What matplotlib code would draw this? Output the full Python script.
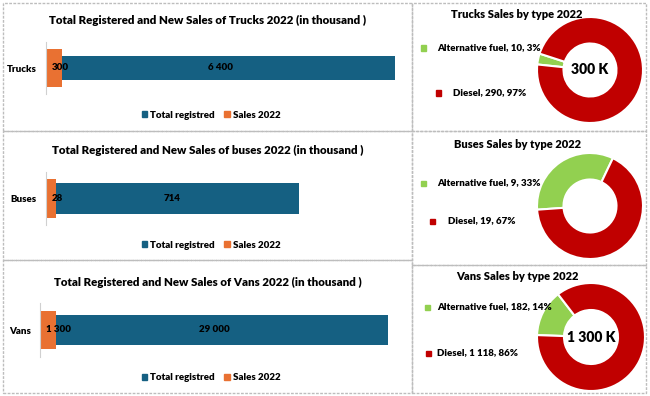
import matplotlib
matplotlib.use("Agg")
import matplotlib.pyplot as plt
from matplotlib.patches import Rectangle, Patch

plt.rcParams['font.family'] = ['Lato', 'DejaVu Sans']
plt.rcParams['font.weight'] = 'heavy'

# data (thousands)
vehicles = ["Trucks", "Buses", "Vans"]
total_registered = [6400, 714, 29000]
sales_2022 = [300, 28, 1300]
bar_titles = ["Total Registered and New Sales of Trucks 2022 (in thousand )",
              "Total Registered and New Sales of buses 2022 (in thousand )",
              "Total Registered and New Sales of Vans 2022 (in thousand )"]

fuel_types = ["Alternative fuel", "Diesel"]
trucks_by_fuel = [10, 290]
buses_by_fuel = [9.3, 18.7]
vans_by_fuel = [182, 1118]
pie_titles = ["Trucks Sales by type 2022", "Buses Sales by type 2022", "Vans Sales by type 2022"]
show_center = [True, False, True]

BLUE = '#156082'
ORANGE = '#E97132'
GREEN = '#92D050'
RED = '#C00000'

W, H = 650, 396


def fx(x):
    return x / W


def fy(y):
    return 1 - y / H


def fmt(v):
    return f"{round(v):,}".replace(",", " ")


fig = plt.figure(figsize=(6.5, 3.96), dpi=100)

# dashed panel borders
boxes = [(3, 3, 412, 131), (3, 131, 412, 260), (3, 260, 412, 393),
         (412, 3, 646, 131), (412, 131, 646, 265), (412, 265, 646, 393)]
for x0, y0, x1, y1 in boxes:
    fig.patches.append(Rectangle((fx(x0), fy(y1)), fx(x1) - fx(x0), fy(y0) - fy(y1),
                                 transform=fig.transFigure, fill=False,
                                 edgecolor='#BDBDBD', lw=1, ls=(0, (2, 1))))

# bar charts: (left, top, bottom) px, xmax, blue height, title y, legend y
bar_layout = [(46, 42, 94, 6500, 0.48, 20, 115),
              (46, 172, 225, 1000, 0.57, 150, 245),
              (40, 303, 357, 30000, 0.56, 282, 378)]

for i, (left, top, bottom, xmax, hb, ty, ly) in enumerate(bar_layout):
    ax = fig.add_axes([fx(left), fy(bottom), fx(400) - fx(left), fy(top) - fy(bottom)])
    b1 = ax.barh([0], [total_registered[i]], height=hb, color=BLUE)
    b2 = ax.barh([0], [sales_2022[i]], height=0.72, color=ORANGE)
    ax.bar_label(b1, labels=[fmt(total_registered[i])], label_type='center', fontsize=7)
    ax.annotate(fmt(sales_2022[i]), xy=(0, 0), xytext=(6, 0), textcoords='offset pixels',
                ha='left', va='center', fontsize=7)
    ax.set_xlim(0, xmax)
    ax.set_ylim(-0.5, 0.5)
    ax.set_xticks([])
    ax.set_yticks([0])
    ax.set_yticklabels([vehicles[i]], fontsize=7)
    ax.tick_params(axis='y', length=0, pad=6.5)
    for s in ['top', 'right', 'bottom']:
        ax.spines[s].set_visible(False)
    ax.spines['left'].set_color('#D0D0D0')
    ax.patch.set_alpha(0)
    fig.text(fx(208), fy(ty), bar_titles[i], ha='center', va='center', fontsize=8.3)
    handles = [Patch(color=BLUE, label="Total registred"), Patch(color=ORANGE, label="Sales 2022")]
    fig.legend(handles=handles, loc='center', bbox_to_anchor=(fx(211), fy(ly)), ncol=2,
               frameon=False, fontsize=7, handlelength=0.55, handleheight=0.55,
               handletextpad=0.3, columnspacing=1.0)

# donut charts
pie_data = [trucks_by_fuel, buses_by_fuel, vans_by_fuel]
# center x, center y, radius, start angle, title y, label positions
pie_layout = [(590, 70, 53, 174, 14, [(423, 437, 48), (438, 453, 93)]),
              (590, 206, 53, 184, 144, [(423, 437, 183), (432, 448, 221)]),
              (591, 337, 54, 178, 276, [(427, 437, 307), (428, 437, 353)])]

for i, (cx, cy, r, start, ty, labpos) in enumerate(pie_layout):
    vals = pie_data[i]
    total = sum(vals)
    rr = r * 1.05
    ax = fig.add_axes([fx(cx - rr), fy(cy + rr), fx(2 * rr), fy(0) - fy(2 * rr)])
    ax.pie(vals, colors=[GREEN, RED], startangle=start, counterclock=False,
           wedgeprops=dict(width=0.5, edgecolor='white', linewidth=1.5))
    ax.set_xlim(-1.05, 1.05)
    ax.set_ylim(-1.05, 1.05)
    if show_center[i]:
        ax.text(0, 0, f"{fmt(total)} K", ha='center', va='center', fontsize=10)
    fig.text(fx(517), fy(ty), pie_titles[i], ha='center', va='center', fontsize=8)
    for (mx, tx, yy), name, v, c in zip(labpos, fuel_types, vals, [GREEN, RED]):
        fig.patches.append(Rectangle((fx(mx - 2.5), fy(yy + 2.5)), fx(5), fy(0) - fy(5),
                                     transform=fig.transFigure, color=c))
        fig.text(fx(tx), fy(yy), f"{name}, {fmt(v)}, {round(100 * v / total)}%",
                 ha='left', va='center', fontsize=7)

fig.savefig("out.png", dpi=100)
